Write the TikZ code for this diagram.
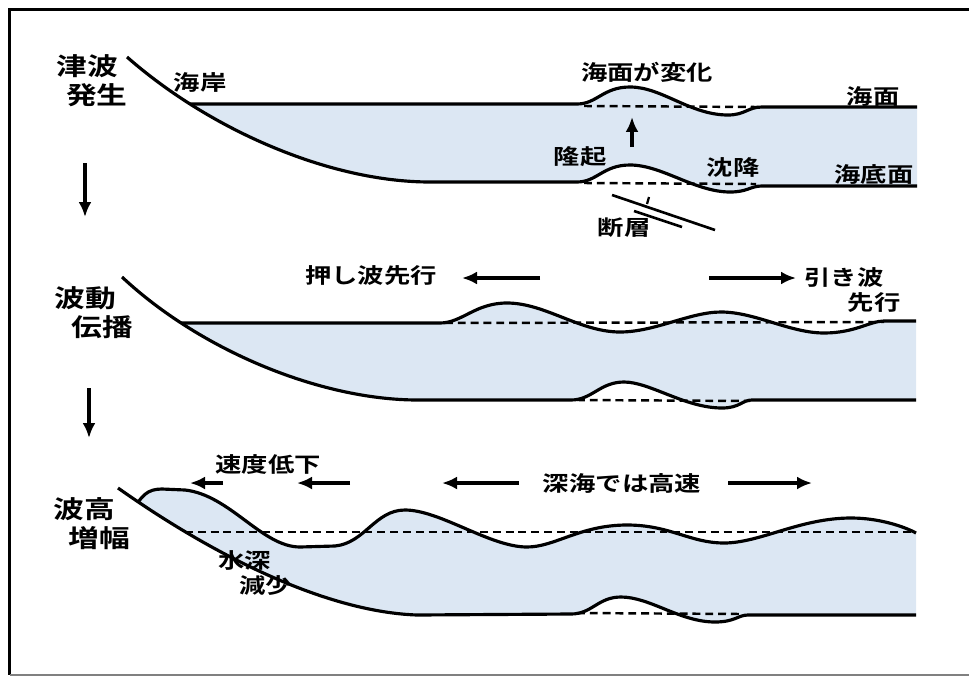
\documentclass[tikz,border=0pt]{standalone}
\usepackage{fontspec}
\newfontfamily\jpfont{Noto Sans CJK JP}[UprightFont=* Bold, FakeStretch=1.25]
\usetikzlibrary{arrows.meta,positioning}
\definecolor{seablue}{RGB}{220,231,243}

\tikzset{
	shore/.style={line width=1.8pt, line join=round},
	level/.style={line width=1.4pt, dash pattern=on 4.5pt off 2.8pt},
	arr/.style={line width=1.9pt, -{Latex[length=3mm,width=2.6mm]}},
	tag/.style={font=\jpfont\fontsize{12pt}{14.5pt}\selectfont, inner sep=1pt},
	stage/.style={font=\jpfont\fontsize{14pt}{16.5pt}\selectfont, align=left, inner sep=1pt},
}

% sea floor (coast + bed) and sea surface of the three stages
\def\bedA{(127,57) .. controls (210,130) and (330,182) .. (430,182) -- (577,182) .. controls (597,182) and (603,165) .. (630,165) .. controls (662,165) and (695,192) .. (730,192) .. controls (748,192) and (750,186) .. (762,186) -- (917,186)}
\def\seaA{(100,104) -- (577,104) .. controls (597,104) and (603,87) .. (630,87) .. controls (662,87) and (690,115) .. (728,115) .. controls (745,115) and (748,107) .. (762,107) -- (917,107)}
\def\bedB{(122,277) .. controls (200,350) and (320,400) .. (418,400) -- (571,400) .. controls (592,400) and (600,382) .. (624,382) .. controls (650,382) and (685,408) .. (722,408) .. controls (740,408) and (742,400) .. (752,400) -- (916,400)}
\def\seaB{(100,323) -- (440,323) .. controls (462,323) and (475,303) .. (507,303) .. controls (545,303) and (580,332) .. (620,332) .. controls (655,332) and (690,312) .. (721,312) .. controls (755,312) and (790,333) .. (824,333) .. controls (855,333) and (870,321) .. (884,321) -- (916,321)}
\def\bedC{(118,488) .. controls (220,560) and (330,612) .. (417,615) -- (571,614) .. controls (592,614) and (598,597) .. (621,597) .. controls (650,597) and (680,622) .. (715,622) .. controls (735,622) and (738,615) .. (748,615) -- (916,615)}
\def\seaC{(132,515) .. controls (140,495) and (148,489) .. (162,489) -- (185,490) .. controls (230,495) and (262,547) .. (300,547) -- (335,546) .. controls (365,543) and (375,510) .. (405,510) .. controls (440,510) and (490,547) .. (527,547) .. controls (555,547) and (580,525) .. (627,525) .. controls (670,525) and (690,543) .. (724,543) .. controls (760,543) and (800,518) .. (851,518) .. controls (880,518) and (905,527) .. (916,533)}

\begin{document}
\begin{tikzpicture}[x=0.02cm, y=-0.02cm]
	\useasboundingbox (0,0) rectangle (969,676);
	\draw[line width=2.2pt] (969,9.5) -- (9.5,9.5) -- (9.5,675);
	\draw[gray, line width=0.8pt] (9.5,675) -- (969,675);

	% stage 1: fault moves the sea floor
	\begin{scope}
		\clip \bedA -- (930,186) -- (930,30) -- (127,30) -- cycle;
		\fill[seablue] \seaA -- (917,260) -- (100,260) -- cycle;
		\draw[shore] \seaA;
	\end{scope}
	\draw[level] (584,106) -- (758,107);
	\draw[level] (584,183) -- (756,184);
	\draw[shore] \bedA;

	% stage 2: waves run both ways
	\begin{scope}
		\clip \bedB -- (930,400) -- (930,250) -- (122,250) -- cycle;
		\fill[seablue] \seaB -- (916,470) -- (100,470) -- cycle;
		\draw[shore] \seaB;
	\end{scope}
	\draw[level] (445,323) -- (884,322);
	\draw[level] (577,400) -- (750,401);
	\draw[shore] \bedB;

	% stage 3: waves grow near the shore
	\begin{scope}
		\clip \bedC -- (930,615) -- (930,470) -- (118,470) -- cycle;
		\fill[seablue] \seaC -- (916,700) -- (100,700) -- cycle;
		\draw[shore] \seaC;
	\end{scope}
	\draw[level] (185,532) -- (916,532);
	\draw[level] (577,613) -- (742,614);
	\draw[shore] \bedC;

	% fault
	\draw[line width=1.5pt] (612,195) -- (715,230);
	\draw[line width=1.5pt] (634,211) -- (682,227);
	\draw[line width=1.3pt] (649,197) -- (647,204);

	% stage names
	\node[stage] (quake) at (92,81) {津波\\\hspace*{0.4em}発生};
	\node[stage] (spread) at (94,313) {波動\\\hspace*{0.7em}伝播};
	\node[stage] (grow) at (92,524) {波高\\\hspace*{0.6em}増幅};

	\node[tag] (coast) at (200,82) {海岸};
	\node[tag] (change) at (647,72) {海面が変化};
	\node[tag] (surf) at (873,96) {海面};
	\node[tag] (floor) at (874,174) {海底面};
	\node[tag] (uplift) at (580,157) {隆起};
	\node[tag] (sink) at (733,167) {沈降};
	\node[tag] (fault) at (624,228) {断層};
	\node[tag] (push) at (371,276) {押し波先行};
	\node[tag] (pull) at (844,277) {引き波};
	\node[tag] (pull2) at (874,303) {先行};
	\node[tag] (slow) at (268,465) {速度低下};
	\node[tag] (deep) at (622,483) {深海では高速};
	\node[tag, align=left] (shallow) at (255,573) {水深\\\hspace*{1em}減少};

	% arrows
	\coordinate (d1a) at (85,163);   \coordinate (d1b) at (85,217);
	\coordinate (d2a) at (89,388);   \coordinate (d2b) at (89,438);
	\coordinate (upa) at (632,147);  \coordinate (upb) at (632,117);
	\coordinate (pushR) at (540,278); \coordinate (pushL) at (462,278);
	\coordinate (pullL) at (709,278); \coordinate (pullR) at (796,278);
	\coordinate (s1R) at (223,483);  \coordinate (s1L) at (190,483);
	\coordinate (s2R) at (350,483);  \coordinate (s2L) at (297,483);
	\coordinate (fastL) at (442,483); \coordinate (fastR) at (812,483);
	\draw[arr] (d1a) -- (d1b);
	\draw[arr] (d2a) -- (d2b);
	\draw[arr] (upa) -- (upb);
	\draw[arr] (pushR) -- (pushL);
	\draw[arr] (pullL) -- (pullR);
	\draw[arr] (s1R) -- (s1L);
	\draw[arr] (s2R) -- (s2L);
	\draw[arr] (deep.west) ++(-22,0) coordinate (fastA) (fastA) -- (fastL);
	\draw[arr] (deep.east) ++(25,0) coordinate (fastB) (fastB) -- (fastR);
\end{tikzpicture}
\end{document}
